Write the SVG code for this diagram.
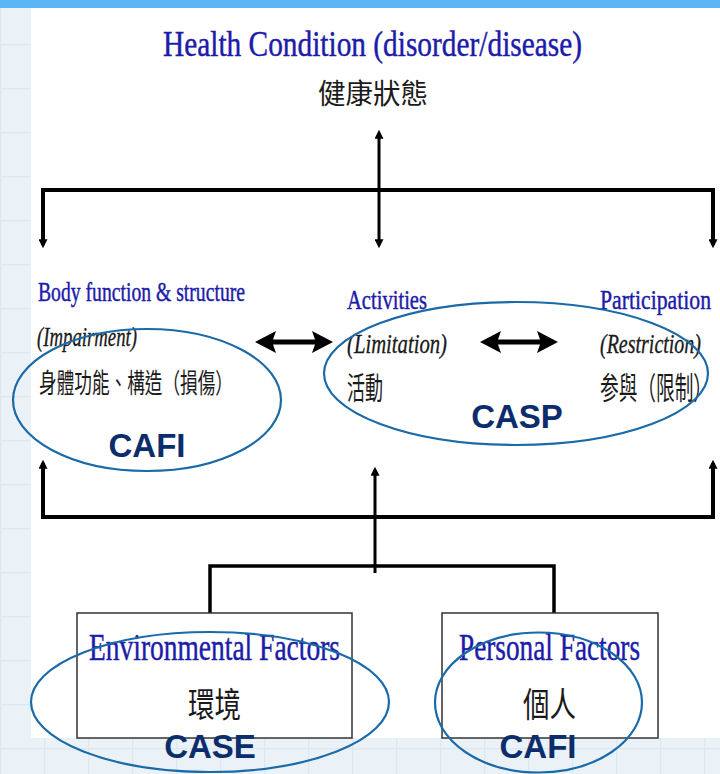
<svg xmlns="http://www.w3.org/2000/svg" width="720" height="774" viewBox="0 0 720 774">
<defs>
<style>
.en{font-family:"Liberation Serif","Times New Roman",serif;fill:#1c1caa;stroke:#1c1caa;stroke-width:0.45;}
.it{font-family:"Liberation Serif","Times New Roman",serif;font-style:italic;fill:#1a1a1a;stroke:#1a1a1a;stroke-width:0.35;}
.zh{font-family:"Noto Sans CJK TC","Noto Sans CJK SC",sans-serif;fill:#1a1a1a;}
.tag{font-family:"Liberation Sans",Arial,sans-serif;font-weight:bold;fill:#0c2d6b;text-anchor:middle;font-size:33px;}
.ring{fill:none;stroke:#1b6aa8;stroke-width:2.2;}
.box{fill:#ffffff;stroke:#333333;stroke-width:1.5;}
.wire{fill:none;stroke:#000000;stroke-linejoin:miter;}
.dbl{fill:#000000;}
</style>
<pattern id="grid" width="44" height="44" patternUnits="userSpaceOnUse">
<rect width="44" height="44" fill="#eaf1f7"/>
<path d="M0,0.5 H44 M0.5,0 V44" stroke="#dde8f1" stroke-width="1.5" fill="none"/>
</pattern>
<marker id="ah" viewBox="0 0 10 10" refX="6.5" refY="5" markerUnits="userSpaceOnUse" markerWidth="15" markerHeight="9" orient="auto-start-reverse">
<path d="M0,0 L10,5 L0,10 Z" fill="#000000"/>
</marker>
</defs>
<rect x="0" y="0" width="720" height="774" fill="url(#grid)"/>
<rect x="31" y="8" width="689" height="730" fill="#ffffff"/>
<rect x="0" y="0" width="720" height="8" fill="#5cb6f6"/>

<g id="connectors">
<path class="wire" stroke-width="4" d="M43,245 V190 H713 V245" marker-start="url(#ah)" marker-end="url(#ah)"/>
<line class="wire" stroke-width="3" x1="379" y1="133" x2="379" y2="245" marker-start="url(#ah)" marker-end="url(#ah)"/>
<path class="wire" stroke-width="4" d="M43,463 V517 H713 V463" marker-start="url(#ah)" marker-end="url(#ah)"/>
<line class="wire" stroke-width="3" x1="375" y1="573" x2="375" y2="470" marker-end="url(#ah)"/>
<path class="wire" stroke-width="3.5" d="M210,613 V566 H554 V613"/>
<path class="dbl" d="M255,342 L276,331 L273,339.5 L315,339.5 L312,331 L333,342 L312,353 L315,344.5 L273,344.5 L276,353 Z"/>
<path class="dbl" d="M480,342 L501,331 L498,339.5 L540,339.5 L537,331 L558,342 L537,353 L540,344.5 L498,344.5 L501,353 Z"/>
</g>

<g id="health">
<text class="en" x="163" y="56" font-size="36" textLength="419" lengthAdjust="spacingAndGlyphs">Health Condition (disorder/disease)</text>
<text class="zh" x="318" y="104" font-size="28" textLength="110" lengthAdjust="spacingAndGlyphs">健康狀態</text>
</g>

<g id="body">
<text class="en" x="38" y="301" font-size="27" textLength="207" lengthAdjust="spacingAndGlyphs">Body function &amp; structure</text>
<text class="it" x="37" y="346" font-size="28" textLength="100" lengthAdjust="spacingAndGlyphs">(Impairment)</text>
<text class="zh" x="39" y="393" font-size="27" textLength="194" lengthAdjust="spacingAndGlyphs">身體功能、構造（損傷）</text>
</g>

<g id="activities">
<text class="en" x="347" y="309" font-size="27" textLength="80" lengthAdjust="spacingAndGlyphs">Activities</text>
<text class="it" x="347" y="353" font-size="28" textLength="100" lengthAdjust="spacingAndGlyphs">(Limitation)</text>
<text class="zh" x="347" y="399" font-size="31" textLength="36" lengthAdjust="spacingAndGlyphs">活動</text>
</g>

<g id="participation">
<text class="en" x="600" y="309" font-size="27" textLength="111" lengthAdjust="spacingAndGlyphs">Participation</text>
<text class="it" x="600" y="353" font-size="28" textLength="101" lengthAdjust="spacingAndGlyphs">(Restriction)</text>
<text class="zh" x="600" y="399" font-size="31" textLength="112" lengthAdjust="spacingAndGlyphs">参與（限制）</text>
</g>

<g id="environmental">
<rect class="box" x="77" y="613" width="275" height="125"/>
<text class="en" x="89" y="660" font-size="38" textLength="251" lengthAdjust="spacingAndGlyphs">Environmental Factors</text>
<text class="zh" x="188" y="717" font-size="34" textLength="53" lengthAdjust="spacingAndGlyphs">環境</text>
</g>

<g id="personal">
<rect class="box" x="442" y="613" width="216" height="125"/>
<text class="en" x="459" y="660" font-size="38" textLength="181" lengthAdjust="spacingAndGlyphs">Personal Factors</text>
<text class="zh" x="523" y="717" font-size="34" textLength="53" lengthAdjust="spacingAndGlyphs">個人</text>
</g>

<g id="cafi-body">
<ellipse class="ring" cx="147" cy="400" rx="134" ry="71"/>
<text class="tag" x="147" y="457">CAFI</text>
</g>

<g id="casp">
<ellipse class="ring" cx="516" cy="373.5" rx="192" ry="71.5"/>
<text class="tag" x="517" y="428">CASP</text>
</g>

<g id="case">
<ellipse class="ring" cx="210" cy="702" rx="179" ry="70"/>
<text class="tag" x="210" y="758">CASE</text>
</g>

<g id="cafi-personal">
<ellipse class="ring" cx="538.5" cy="702.5" rx="103.5" ry="70"/>
<text class="tag" x="538" y="758">CAFI</text>
</g>
</svg>
